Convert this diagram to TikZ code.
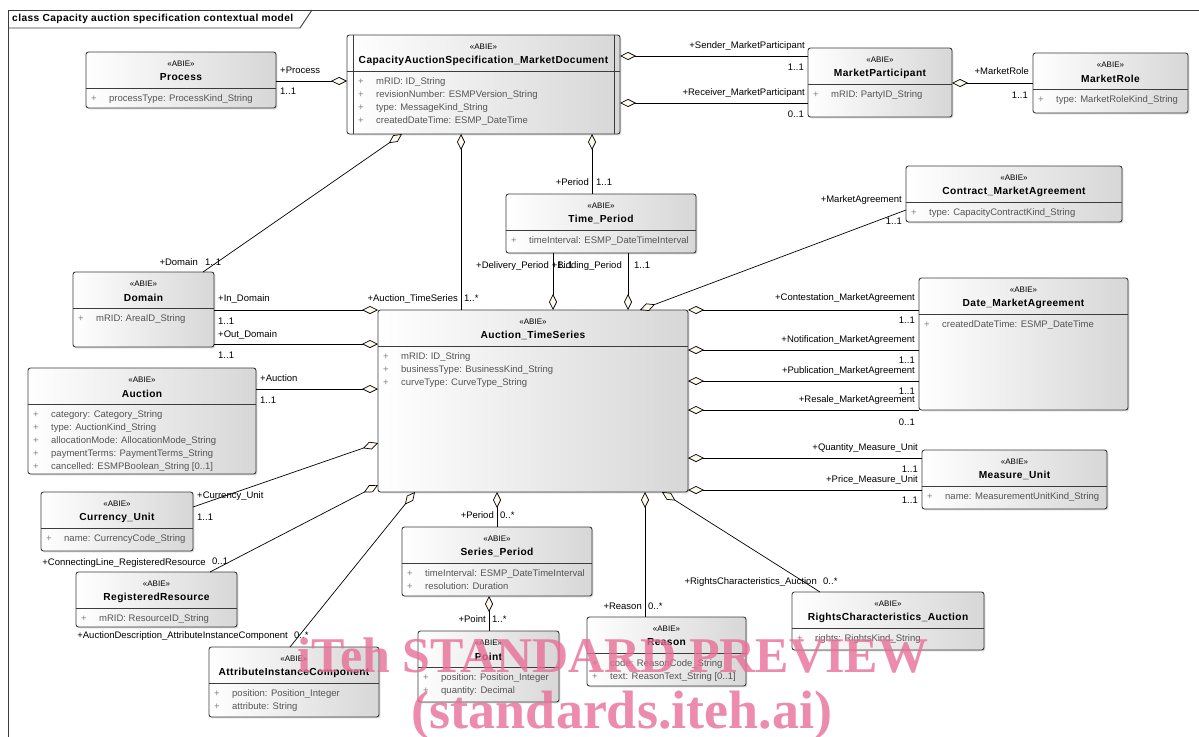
\documentclass[tikz,border=0pt]{standalone}
\usepackage{fontspec}
\setmainfont{Liberation Sans}
\newfontfamily\boldsp[LetterSpace=4]{Liberation Sans}
\newfontfamily\wmfont{Liberation Serif}
\usetikzlibrary{arrows.meta,calc,shadows}
\definecolor{boxline}{RGB}{60,60,60}
\definecolor{attrgray}{RGB}{85,85,85}
\definecolor{plusgray}{RGB}{130,130,130}
\definecolor{diamfill}{RGB}{255,250,238}
\definecolor{shadeR}{RGB}{215,215,215}
\definecolor{wmpink}{RGB}{232,110,150}
\tikzset{
 classbox/.style={draw=boxline, line width=0.9pt, rounded corners=2.5pt, left color=white, right color=shadeR, inner sep=0pt, outer sep=0pt, anchor=north west, drop shadow={opacity=0.3,shadow xshift=1.3pt,shadow yshift=-1.3pt}},
 divline/.style={draw=boxline, line width=0.8pt},
 stereo/.style={font=\fontsize{8}{9}\selectfont, inner sep=0pt},
 ctitle/.style={font=\boldsp\bfseries\fontsize{10.2}{12}\selectfont, inner sep=0pt},
 attrplus/.style={font=\fontsize{9.5}{11}\selectfont, text=plusgray, inner sep=0pt},
 attr/.style={font=\fontsize{9.5}{11}\selectfont, text=attrgray, inner sep=0pt, anchor=mid west},
 lbl/.style={font=\fontsize{9.5}{11}\selectfont, inner sep=0pt},
 lblL/.style={lbl, anchor=mid west},
 lblR/.style={lbl, anchor=mid east},
 agg/.style={draw=black, line width=0.7pt, {Diamond[length=16pt,width=8pt,fill=diamfill]}-},
 wm/.style={font=\wmfont\bfseries\fontsize{50}{50}\selectfont, text=wmpink, text opacity=0.8, inner sep=0pt, anchor=base},
}
\newcommand\umlbox[8]{%
 \node[classbox, minimum width={(#4-#2)*1pt}, minimum height={(#5-#3)*1pt}] (#1) at (#2,#3) {};
 \draw[divline] ($(#1.north west)+(0,36)$) -- ($(#1.north east)+(0,36)$);
 \node[stereo] (#1-s) at ($(#1.north)+(0,12)$) {«ABIE»};
 \node[ctitle] (#1-t) at ($(#1.north)+(0,25.5)$) {#6};
 \foreach \a [count=\i] in {#7} {
   \node[attrplus] (#1-p\i) at ($(#1.north west)+({8+#8},{47+13*(\i-1)})$) {+};
   \node[attr] (#1-a\i) at ($(#1.north west)+({23+#8},{47+13*(\i-1)})$) {\a};
 }
}
\begin{document}
\begin{tikzpicture}[x=1pt,y=-1pt]
\useasboundingbox (0,0) rectangle (1199,736);
\fill[white] (0,0) rectangle (1199,736);
% frame
\draw[draw=boxline, line width=0.9pt] (8,740) -- (8,10) -- (1202,10);
\draw[draw=boxline, line width=0.9pt] (8,28) -- (300,28) -- (312,10);
\node[lblL, font=\boldsp\bfseries\fontsize{10.2}{12}\selectfont] (frametitle) at (12,19) {class Capacity auction specification contextual model};

% classes
\umlbox{process}{86}{52}{276}{108}{Process}{{processType: ProcessKind\_String}}{0}
\umlbox{doc}{347}{35}{620}{134}{CapacityAuctionSpecification\_MarketDocument}{{mRID: ID\_String},{revisionNumber: ESMPVersion\_String},{type: MessageKind\_String},{createdDateTime: ESMP\_DateTime}}{6}
\draw[divline] ($(doc.north west)+(6,0)$) -- ($(doc.south west)+(6,0)$);
\draw[divline] ($(doc.north east)+(-6,0)$) -- ($(doc.south east)+(-6,0)$);
\umlbox{mp}{808}{48}{952}{117}{MarketParticipant}{{mRID: PartyID\_String}}{0}
\umlbox{mr}{1033}{53}{1188}{113}{MarketRole}{{type: MarketRoleKind\_String}}{0}
\umlbox{cma}{906}{166}{1122}{222}{Contract\_MarketAgreement}{{type: CapacityContractKind\_String}}{0}
\umlbox{tp}{506}{194}{696}{253}{Time\_Period}{{timeInterval: ESMP\_DateTimeInterval}}{0}
\umlbox{ats}{378}{310}{688}{492}{Auction\_TimeSeries}{{mRID: ID\_String},{businessType: BusinessKind\_String},{curveType: CurveType\_String}}{0}
\umlbox{dom}{73}{272}{214}{347}{Domain}{{mRID: AreaID\_String}}{0}
\umlbox{auc}{28}{368}{256}{474}{Auction}{{category: Category\_String},{type: AuctionKind\_String},{allocationMode: AllocationMode\_String},{paymentTerms: PaymentTerms\_String},{cancelled: ESMPBoolean\_String [0..1]}}{0}
\umlbox{cu}{41}{492}{193}{551}{Currency\_Unit}{{name: CurrencyCode\_String}}{0}
\umlbox{rr}{76}{572}{237}{627}{RegisteredResource}{{mRID: ResourceID\_String}}{0}
\umlbox{aic}{209}{647}{379}{717}{AttributeInstanceComponent}{{position: Position\_Integer},{attribute: String}}{0}
\umlbox{sp}{402}{527}{592}{596}{Series\_Period}{{timeInterval: ESMP\_DateTimeInterval},{resolution: Duration}}{0}
\umlbox{pt}{418}{631}{559}{702}{Point}{{position: Position\_Integer},{quantity: Decimal}}{0}
\umlbox{rs}{587}{617}{746}{686}{Reason}{{code: ReasonCode\_String},{text: ReasonText\_String [0..1]}}{0}
\umlbox{rca}{792}{592}{984}{650}{RightsCharacteristics\_Auction}{{rights: RightsKind\_String}}{0}
\umlbox{dma}{919}{278}{1128}{410}{Date\_MarketAgreement}{{createdDateTime: ESMP\_DateTime}}{0}
\umlbox{mu}{922}{450}{1107}{509}{Measure\_Unit}{{name: MeasurementUnitKind\_String}}{0}

% connectors
\draw[agg] ($(doc.north west)+(0,46)$) -- ($(process.north east)+(0,29)$);
\node[lblL] (l1) at (280,71) {+Process};
\node[lblL] (l2) at (280,92) {1..1};

\draw[agg] ($(doc.north east)+(0,21)$) -- ($(mp.north west)+(0,8)$);
\node[lblR] (l3) at (805,46) {+Sender\_MarketParticipant};
\node[lblR] (l4) at (804,68) {1..1};
\draw[agg] ($(doc.north east)+(0,68)$) -- ($(mp.north west)+(0,55)$);
\node[lblR] (l5) at (805,93) {+Receiver\_MarketParticipant};
\node[lblR] (l6) at (804,115) {0..1};

\draw[agg] ($(mp.north east)+(0,35)$) -- ($(mr.north west)+(0,30)$);
\node[lblR] (l7) at (1029,72) {+MarketRole};
\node[lblR] (l8) at (1028,96) {1..1};

\draw[agg] ($(doc.south west)+(55,0)$) -- ($(dom.north west)+(130,0)$);
\node[lblR] (l9) at (198,263) {+Domain};
\node[lblL] (l10) at (205,263) {1..1};

\draw[agg] ($(doc.south west)+(114,0)$) -- ($(ats.north west)+(83,0)$);
\node[lblR] (l11) at (458,299) {+Auction\_TimeSeries};
\node[lblL] (l12) at (464,299) {1..*};

\draw[agg] ($(doc.south west)+(245,0)$) -- ($(tp.north west)+(86,0)$);
\node[lblR] (l13) at (589,183) {+Period};
\node[lblL] (l14) at (596,183) {1..1};

\draw[agg] ($(ats.north west)+(175,0)$) -- ($(tp.south west)+(47,0)$);
\node[lblR] (l15) at (549,266) {+Delivery\_Period};
\node[lblL] (l16) at (557,266) {1..1};
\draw[agg] ($(ats.north west)+(250,0)$) -- ($(tp.south west)+(122,0)$);
\node[lblR] (l17) at (622,266) {+Bidding\_Period};
\node[lblL] (l18) at (634,266) {1..1};

\draw[agg] ($(ats.north west)+(262,0)$) -- ($(cma.north west)+(0,44)$);
\node[lblR] (l19) at (902,200) {+MarketAgreement};
\node[lblR] (l20) at (902,222) {1..1};

\draw[agg] (ats.north east) -- ($(dma.north west)+(0,32)$);
\node[lblR] (l21) at (915,298) {+Contestation\_MarketAgreement};
\node[lblR] (l22) at (915,321) {1..1};
\draw[agg] ($(ats.north east)+(0,40)$) -- ($(dma.north west)+(0,72)$);
\node[lblR] (l23) at (915,340) {+Notification\_MarketAgreement};
\node[lblR] (l24) at (915,361) {1..1};
\draw[agg] ($(ats.north east)+(0,71)$) -- ($(dma.north west)+(0,103)$);
\node[lblR] (l25) at (915,371) {+Publication\_MarketAgreement};
\node[lblR] (l26) at (915,392) {1..1};
\draw[agg] ($(ats.north east)+(0,100)$) -- (dma.south west);
\node[lblR] (l27) at (915,400) {+Resale\_MarketAgreement};
\node[lblR] (l28) at (915,423) {0..1};

\draw[agg] ($(ats.north east)+(0,148)$) -- ($(mu.north west)+(0,8)$);
\node[lblR] (l29) at (918,448) {+Quantity\_Measure\_Unit};
\node[lblR] (l30) at (918,470) {1..1};
\draw[agg] ($(ats.north east)+(0,180)$) -- ($(mu.north west)+(0,40)$);
\node[lblR] (l31) at (918,480) {+Price\_Measure\_Unit};
\node[lblR] (l32) at (918,501) {1..1};

\draw[agg] (ats.north west) -- ($(dom.north east)+(0,38)$);
\node[lblL] (l33) at (218,299) {+In\_Domain};
\node[lblL] (l34) at (218,322) {1..1};
\draw[agg] ($(ats.north west)+(0,34)$) -- ($(dom.north east)+(0,72)$);
\node[lblL] (l35) at (218,335) {+Out\_Domain};
\node[lblL] (l36) at (218,356) {1..1};
\draw[agg] ($(ats.north west)+(0,79)$) -- ($(auc.north east)+(0,21)$);
\node[lblL] (l37) at (260,379) {+Auction};
\node[lblL] (l38) at (260,401) {1..1};
\draw[agg] ($(ats.north west)+(0,133)$) -- ($(cu.north east)+(0,15)$);
\node[lblL] (l39) at (197,496) {+Currency\_Unit};
\node[lblL] (l40) at (197,518) {1..1};
\draw[agg] ($(ats.north west)+(0,175)$) -- ($(rr.north west)+(134,0)$);
\node[lblR] (l41) at (206,563) {+ConnectingLine\_RegisteredResource};
\node[lblL] (l42) at (212,562) {0..1};
\draw[agg] ($(ats.south west)+(37,0)$) -- ($(aic.north west)+(81,0)$);
\node[lblR] (l43) at (288,636) {+AuctionDescription\_AttributeInstanceComponent};
\node[lblL] (l44) at (294,636) {0..*};

\draw[agg] ($(ats.south west)+(119,0)$) -- ($(sp.north west)+(95,0)$);
\node[lblR] (l45) at (494,516) {+Period};
\node[lblL] (l46) at (500,516) {0..*};
\draw[agg] ($(sp.south west)+(87,0)$) -- ($(pt.north west)+(71,0)$);
\node[lblR] (l47) at (486,620) {+Point};
\node[lblL] (l48) at (492,620) {1..*};
\draw[agg] ($(ats.south west)+(267,0)$) -- ($(rs.north west)+(58,0)$);
\node[lblR] (l49) at (642,607) {+Reason};
\node[lblL] (l50) at (648,607) {0..*};
\draw[agg] ($(ats.south west)+(284,0)$) -- ($(rca.north west)+(28,0)$);
\node[lblR] (l51) at (817,582) {+RightsCharacteristics\_Auction};
\node[lblL] (l52) at (823,582) {0..*};

% watermark
\node[wm] (wm1) at (613,672) {iTeh STANDARD PREVIEW};
\node[wm, font=\wmfont\bfseries\fontsize{54}{54}\selectfont] (wm2) at (622,728) {(standards.iteh.ai)};
\end{tikzpicture}
\end{document}
